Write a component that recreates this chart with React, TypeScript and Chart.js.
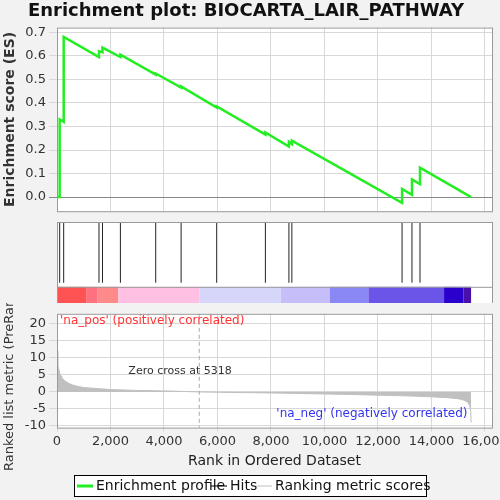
import React, { useEffect, useRef } from "react";
import { Chart, registerables } from "chart.js";
Chart.register(...registerables);

const hitRanks = [100, 250, 1570, 1700, 2370, 3690, 4640, 5970, 7790, 8670, 8780, 12900, 13270, 13570];
const esBefore = [0.0, 0.32, 0.595, 0.615, 0.595, 0.52, 0.465, 0.38, 0.265, 0.215, 0.225, -0.025, 0.01, 0.055];
const esAfter = [0.33, 0.68, 0.62, 0.635, 0.605, 0.525, 0.47, 0.385, 0.275, 0.235, 0.24, 0.035, 0.075, 0.125];
const endRank = 15480;
const metricRanks = [0, 30, 100, 200, 300, 450, 600, 800, 1000, 1500, 2000, 3000, 4000, 5318, 6500, 8000, 9000, 10000, 11000, 12000, 13000, 14000, 14600, 15000, 15200, 15350, 15430, 15470, 15480];
const metricValues = [12, 8, 5.5, 4, 3.2, 2.5, 2.0, 1.6, 1.3, 1.0, 0.7, 0.45, 0.3, 0, -0.15, -0.3, -0.45, -0.6, -0.75, -0.95, -1.15, -1.45, -1.7, -2.0, -2.4, -3.0, -4.0, -6.0, -9.0];
const barEdges = [0, 1110, 1500, 2290, 5320, 8370, 10200, 11640, 14470, 15190, 15480];
const barColors = ["#ff5252", "#ff7080", "#ff8a8a", "#ffc0e4", "#d6d6fa", "#c6bef8", "#8a88f4", "#6a55e8", "#2a00cc", "#4a10aa"];
const xTicks = [0, 2000, 4000, 6000, 8000, 10000, 12000, 14000, 16000];
const legendItems = ["Enrichment profile", "Hits", "Ranking metric scores"];
const legendColors = ["#22ee22", "#000000", "#c0c0c0"];

const XMAX = 16262;
const font = { family: "DejaVu Sans", size: 13 };
const gridDash = { color: "#d8d8d8", borderDash: [3, 3] } as any;

const borderPlugin = {
  id: "frame",
  afterDraw(c: any) {
    const a = c.chartArea, ctx = c.ctx;
    ctx.save();
    ctx.strokeStyle = "#999";
    ctx.lineWidth = 1;
    ctx.strokeRect(a.left + 0.5, a.top + 0.5, a.right - a.left, a.bottom - a.top);
    ctx.restore();
  },
};
const whiteBg = {
  id: "bg",
  beforeDraw(c: any) {
    const a = c.chartArea, ctx = c.ctx;
    ctx.save();
    ctx.fillStyle = "#fff";
    ctx.fillRect(a.left, a.top, a.right - a.left, a.bottom - a.top);
    ctx.restore();
  },
};

function xScale(showTicks: boolean) {
  return {
    type: "linear", min: 0, max: XMAX,
    afterBuildTicks: (s: any) => { s.ticks = xTicks.map((v) => ({ value: v })); },
    afterFit: (s: any) => { s.paddingRight = 0; s.paddingLeft = 0; if (!showTicks) s.height = 0; },
    grid: { ...gridDash, drawTicks: showTicks, tickLength: 4 },
    border: { display: false },
    ticks: { display: showTicks, font, color: "#333", maxRotation: 0, padding: 2, callback: (v: any) => Number(v).toLocaleString("en-US") },
    title: showTicks ? { display: true, text: "Rank in Ordered Dataset", font: { family: "DejaVu Sans", size: 14 }, color: "#222", padding: 2 } : { display: false },
  } as any;
}

export default function App() {
  const r1 = useRef<HTMLCanvasElement>(null);
  const r2 = useRef<HTMLCanvasElement>(null);
  const r3 = useRef<HTMLCanvasElement>(null);
  useEffect(() => {
    const es: any[] = [{ x: 0, y: 0 }];
    hitRanks.forEach((h, i) => { es.push({ x: h, y: esBefore[i] }); es.push({ x: h, y: esAfter[i] }); });
    es.push({ x: endRank, y: 0 });
    const c1 = new Chart(r1.current!, {
      type: "line",
      data: { datasets: [{ data: es, borderColor: "#22ee22", borderWidth: 2.5, pointRadius: 0, tension: 0 }] },
      options: {
        animation: false, responsive: false, parsing: false as any,
        layout: { padding: { right: 8, top: 0, bottom: 0 } },
        plugins: {
          legend: { display: false }, tooltip: { enabled: false },
          title: { display: true, text: "Enrichment plot: BIOCARTA_LAIR_PATHWAY", font: { family: "DejaVu Sans", size: 18, weight: "bold" }, color: "#111", padding: { top: 1, bottom: 5 } },
        },
        scales: {
          x: xScale(false),
          y: {
            min: -0.06, max: 0.72,
            afterBuildTicks: (s: any) => { s.ticks = [0, 0.1, 0.2, 0.3, 0.4, 0.5, 0.6, 0.7].map((v) => ({ value: v })); },
            afterFit: (s: any) => { s.width = 57; },
            grid: { ...gridDash, color: (ctx: any) => (ctx.tick && ctx.tick.value === 0 ? "#888" : "#d8d8d8"), borderDash: (ctx: any) => (ctx.tick && ctx.tick.value === 0 ? [] : [3, 3]) } as any,
            border: { display: false },
            ticks: { font, color: "#333", callback: (v: any) => Number(v).toFixed(1) },
            title: { display: true, text: "Enrichment score (ES)", font: { family: "DejaVu Sans", size: 14, weight: "bold" }, color: "#333", padding: 2 },
          } as any,
        },
      },
      plugins: [whiteBg, borderPlugin],
    });
    const hits: any[] = [];
    hitRanks.forEach((h) => { hits.push({ x: h, y: 0.25 }); hits.push({ x: h, y: 1 }); hits.push({ x: h, y: null }); });
    const barPlugin = {
      id: "bar",
      afterDatasetsDraw(c: any) {
        const xs = c.scales.x, ys = c.scales.y, ctx = c.ctx;
        const top = ys.getPixelForValue(0.2), bot = ys.getPixelForValue(0);
        ctx.save();
        for (let i = 0; i < barColors.length; i++) {
          const a = xs.getPixelForValue(barEdges[i]), b = xs.getPixelForValue(barEdges[i + 1]);
          ctx.fillStyle = barColors[i];
          ctx.fillRect(a, top, b - a, bot - top);
        }
        ctx.strokeStyle = "#999";
        ctx.beginPath(); ctx.moveTo(c.chartArea.left, top + 0.5); ctx.lineTo(c.chartArea.right, top + 0.5); ctx.stroke();
        ctx.restore();
      },
    };
    const c2 = new Chart(r2.current!, {
      type: "line",
      data: { datasets: [{ data: hits, borderColor: "#222", borderWidth: 1, pointRadius: 0, spanGaps: false }] },
      options: {
        animation: false, responsive: false, parsing: false as any,
        layout: { padding: { left: 57, right: 8, top: 0, bottom: 0 } },
        plugins: { legend: { display: false }, tooltip: { enabled: false } },
        scales: { x: { ...xScale(false), display: false }, y: { min: 0, max: 1, display: false } } as any,
      },
      plugins: [whiteBg, barPlugin, borderPlugin],
    });
    const met = metricRanks.map((x, i) => ({ x, y: metricValues[i] }));
    const textPlugin = {
      id: "texts",
      afterDatasetsDraw(c: any) {
        const xs = c.scales.x, ys = c.scales.y, ctx = c.ctx, a = c.chartArea;
        ctx.save();
        ctx.font = "12px DejaVu Sans";
        ctx.fillStyle = "#ff3333"; ctx.textBaseline = "top";
        ctx.fillText("'na_pos' (positively correlated)", a.left + 3, a.top + 1);
        ctx.fillStyle = "#3333ee"; ctx.textBaseline = "bottom";
        ctx.fillText("'na_neg' (negatively correlated)", xs.getPixelForValue(8200), ys.getPixelForValue(-8.3));
        ctx.fillStyle = "#333"; ctx.font = "11px DejaVu Sans"; ctx.textAlign = "center";
        ctx.fillText("Zero cross at 5318", xs.getPixelForValue(4600), ys.getPixelForValue(4.5));
        const zx = xs.getPixelForValue(5318);
        ctx.strokeStyle = "#aaa"; ctx.setLineDash([4, 3]);
        ctx.beginPath(); ctx.moveTo(zx, a.top); ctx.lineTo(zx, a.bottom); ctx.stroke();
        ctx.setLineDash([]);
        ctx.restore();
      },
      afterDraw(c: any) {
        const ctx = c.ctx;
        ctx.save();
        const top = c.height - 25;
        ctx.fillStyle = "#fff";
        ctx.fillRect(74, top, 352, 21);
        ctx.strokeStyle = "#000"; ctx.lineWidth = 1;
        ctx.strokeRect(74.5, top + 0.5, 352, 21);
        ctx.font = "14px DejaVu Sans"; ctx.textBaseline = "middle"; ctx.textAlign = "left";
        const xs0 = [77, 211, 256];
        legendItems.forEach((t, i) => {
          const x = xs0[i], y = top + 11;
          ctx.strokeStyle = legendColors[i]; ctx.lineWidth = i === 0 ? 3 : 1;
          ctx.beginPath(); ctx.moveTo(x, y); ctx.lineTo(x + 16, y); ctx.stroke();
          ctx.fillStyle = "#111";
          ctx.fillText(t, x + 19, y);
        });
        ctx.restore();
      },
    };
    const c3 = new Chart(r3.current!, {
      type: "line",
      data: {
        datasets: [
          { label: "Ranking metric scores", data: met, borderColor: "#c0c0c0", backgroundColor: "#c0c0c0", borderWidth: 1, pointRadius: 0, fill: "origin", tension: 0 },
        ],
      },
      options: {
        animation: false, responsive: false, parsing: false as any,
        layout: { padding: { right: 8, top: 0, bottom: 28 } },
        plugins: { tooltip: { enabled: false }, legend: { display: false } },
        scales: {
          x: xScale(true),
          y: {
            min: -10.5, max: 23,
            afterBuildTicks: (s: any) => { s.ticks = [-10, -5, 0, 5, 10, 15, 20].map((v) => ({ value: v })); },
            afterFit: (s: any) => { s.width = 57; },
            grid: gridDash, border: { display: false },
            ticks: { font, color: "#333" },
            title: { display: true, text: "Ranked list metric (PreRanked)", font: { family: "DejaVu Sans", size: 13 }, color: "#333", padding: 2 },
          } as any,
        },
      },
      plugins: [whiteBg, textPlugin, borderPlugin],
    });
    return () => { c1.destroy(); c2.destroy(); c3.destroy(); };
  }, []);
  return (
    <div style={{ position: "fixed", left: 0, top: 0, width: 500, height: 500, background: "#f2f2f2" }}>
      <canvas ref={r1} width={500} height={222} style={{ position: "absolute", left: 0, top: 0 }} />
      <canvas ref={r2} width={500} height={81} style={{ position: "absolute", left: 0, top: 222 }} />
      <canvas ref={r3} width={500} height={197} style={{ position: "absolute", left: 0, top: 303 }} />
    </div>
  );
}
